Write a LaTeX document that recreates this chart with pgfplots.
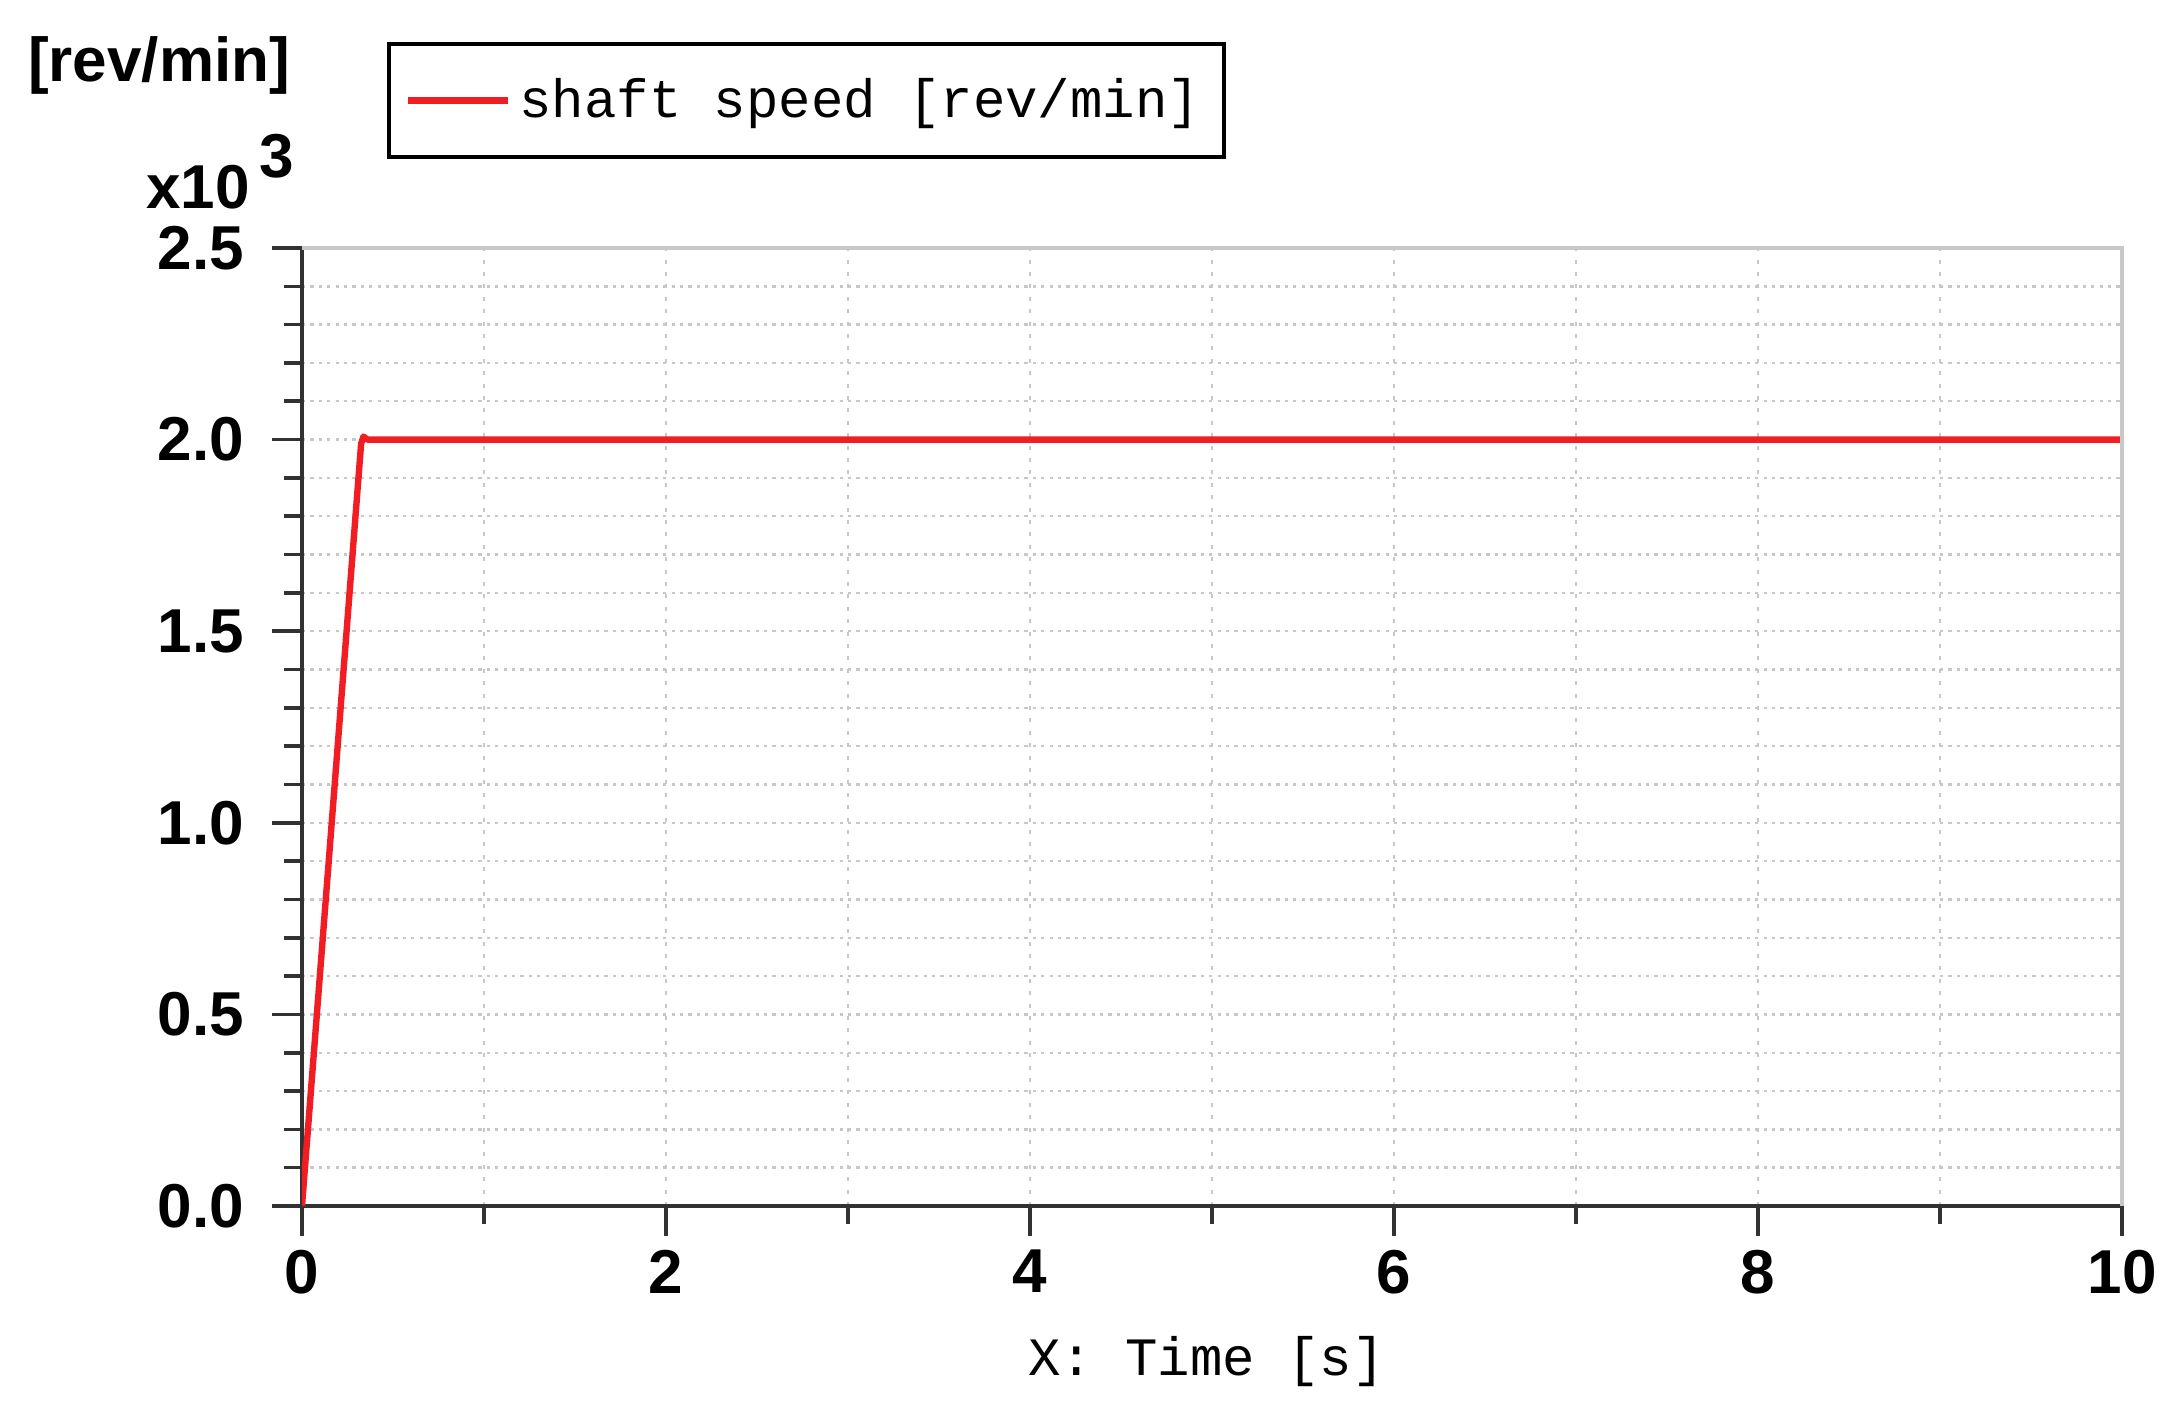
\documentclass[border=0pt]{standalone}
\usepackage{fontspec}
\setmainfont{Liberation Sans}
\setmonofont{Liberation Mono}
\usepackage{pgfplots}
\pgfplotsset{compat=1.18}
\definecolor{spd}{RGB}{240,30,35}
\definecolor{axc}{RGB}{50,50,50}
\definecolor{gridc}{RGB}{200,200,200}
\begin{document}
\begin{tikzpicture}
\begin{axis}[
  name=ax,
  scale only axis, width=455pt, height=239.5pt,
  xmin=0, xmax=10, ymin=0, ymax=2500,
  xtick={0,2,...,10}, minor x tick num=1,
  ytick={0,500,...,2500}, minor y tick num=4,
  scaled y ticks=base 10:-3,
  ytick scale label code/.code={},
  yticklabel style={xshift=-3.5pt, /pgf/number format/.cd, fixed, fixed zerofill, precision=1},
  /pgf/number format/assume math mode=true,
  tick label style={font=\bfseries\fontsize{15.5}{16}\selectfont},
  axis x line*=bottom, axis y line*=left,
  axis line style={axc, line width=0.9pt, -},
  tick align=outside,
  major tick length=7.5pt, minor tick length=4.5pt,
  every tick/.append style={axc, line width=0.9pt},
  grid=both,
  major x grid style={gridc, line width=0.6pt, dash pattern=on 1pt off 2.1pt},
  minor x grid style={gridc, line width=0.6pt, dash pattern=on 1pt off 2.1pt},
  major y grid style={gridc, line width=0.6pt, dash pattern=on 0.8pt off 1.3pt},
  minor y grid style={gridc, line width=0.6pt, dash pattern=on 0.8pt off 1.3pt},
  xlabel={X: Time [s]},
  xlabel style={font=\ttfamily\fontsize{13.5}{16}\selectfont, at={(axis description cs:0.497,-0.1764)}, anchor=base},
  legend style={at={(0.0467,1.215)}, anchor=north west, draw=black, line width=1pt,
    font=\ttfamily\fontsize{13.5}{16}\selectfont, inner xsep=4pt, inner ysep=6.5pt},
  legend cell align=left,
  legend image code/.code={\draw[#1, line width=1.6pt] (0pt,0pt) -- (25pt,0pt);},
  after end axis/.code={\draw[gridc, line width=1pt] (rel axis cs:0,1) -- (rel axis cs:1,1) -- (rel axis cs:1,0);},
]
\addplot[spd, line width=1.6pt, line join=round] coordinates {(0,0) (0.325,1990) (0.338,2008) (0.36,2000) (10,2000)};
\addlegendentry{shaft speed [rev/min]}
\end{axis}
\node[anchor=center, font=\bfseries\fontsize{15.5}{16}\selectfont] at ([xshift=-35.75pt, yshift=45.75pt]ax.north west) {[rev/min]};
\node[anchor=base east, inner sep=0pt, font=\bfseries\fontsize{15.5}{16}\selectfont] at ([xshift=-1.75pt, yshift=10pt]ax.north west) {x10\hspace{2.5pt}\raisebox{0.5em}{3}};
\pgfresetboundingbox
\path[use as bounding box] ([xshift=-75.5pt, yshift=-49.75pt]ax.south west) rectangle ([xshift=12.75pt, yshift=62pt]ax.north east);
\end{tikzpicture}
\end{document}
